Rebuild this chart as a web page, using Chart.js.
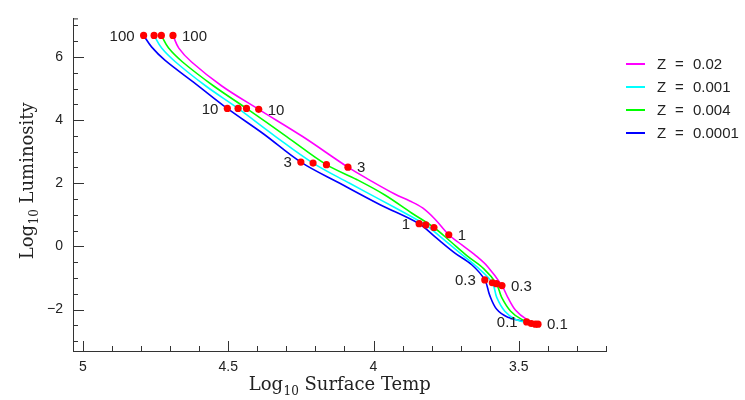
<!DOCTYPE html>
<html>
<head>
<meta charset="utf-8">
<script src="https://cdn.jsdelivr.net/npm/chart.js@4.4.0/dist/chart.umd.min.js"></script>
<style>
  html, body { margin: 0; padding: 0; background: #fff; }
</style>
</head>
<body>
<canvas id="hr" width="745" height="400"></canvas>
<script>
// --- ZAMS tracks, log T vs log L ---
const seriesNames = ['Z = 0.02', 'Z = 0.001', 'Z = 0.004', 'Z = 0.0001'];
const seriesColors = ['#ff00ff', '#00ffff', '#00ff00', '#0000ff'];

const tempZ002 = [4.690, 4.670, 4.626, 4.522, 4.395, 4.244, 4.088, 4.013, 3.927, 3.875, 3.831, 3.789, 3.741, 3.696, 3.652, 3.607, 3.558, 3.538, 3.511, 3.473, 3.434];
const lumZ002  = [6.68, 6.28, 5.84, 5.08, 4.34, 3.48, 2.51, 2.10, 1.66, 1.44, 1.22, 0.87, 0.37, 0.05, -0.26, -0.64, -1.24, -1.61, -2.02, -2.31, -2.46];

const tempZ0001 = [4.755, 4.729, 4.681, 4.577, 4.466, 4.337, 4.208, 4.082, 3.979, 3.875, 3.820, 3.765, 3.703, 3.641, 3.591, 3.576, 3.548, 3.511, 3.457];
const lumZ0001  = [6.68, 6.28, 5.84, 5.08, 4.37, 3.48, 2.64, 2.00, 1.49, 0.97, 0.68, 0.27, -0.20, -0.67, -1.15, -1.61, -2.05, -2.31, -2.44];

const tempZ0004 = [4.730, 4.705, 4.657, 4.550, 4.437, 4.299, 4.162, 4.058, 3.961, 3.869, 3.792, 3.738, 3.679, 3.621, 3.577, 3.559, 3.528, 3.490, 3.443];
const lumZ0004  = [6.68, 6.28, 5.84, 5.08, 4.37, 3.48, 2.59, 2.12, 1.63, 1.06, 0.60, 0.18, -0.29, -0.70, -1.18, -1.61, -2.05, -2.31, -2.46];

const tempZ00001 = [4.791, 4.763, 4.718, 4.612, 4.503, 4.378, 4.250, 4.116, 3.979, 3.843, 3.789, 3.721, 3.662, 3.617, 3.600, 3.576, 3.538, 3.473];
const lumZ00001  = [6.68, 6.31, 5.90, 5.15, 4.37, 3.56, 2.67, 2.00, 1.33, 0.72, 0.31, -0.20, -0.58, -1.06, -1.55, -1.99, -2.24, -2.39];

// mass points (solar masses) on each track
const massLabels = ['100', '10', '3', '1', '0.3', '0.1'];
const massTempZ002    = [4.690, 4.395, 4.088, 3.741, 3.558, 3.434];
const massLumZ002     = [6.68, 4.34, 2.51, 0.37, -1.24, -2.46];
const massTempZ0001   = [4.755, 4.466, 4.208, 3.820, 3.591, 3.457];
const massLumZ0001    = [6.68, 4.37, 2.64, 0.68, -1.15, -2.44];
const massTempZ0004   = [4.730, 4.437, 4.162, 3.792, 3.577, 3.443];
const massLumZ0004    = [6.68, 4.37, 2.59, 0.60, -1.18, -2.46];
const massTempZ00001  = [4.791, 4.503, 4.250, 3.843, 3.617, 3.473];
const massLumZ00001   = [6.68, 4.37, 2.67, 0.72, -1.06, -2.39];

const xTicks = [5, 4.5, 4, 3.5];
const yTicks = [-2, 0, 2, 4, 6];

const tracks = [[tempZ002, lumZ002], [tempZ0001, lumZ0001], [tempZ0004, lumZ0004], [tempZ00001, lumZ00001]];
const massTracks = [[massTempZ002, massLumZ002], [massTempZ0001, massLumZ0001], [massTempZ0004, massLumZ0004], [massTempZ00001, massLumZ00001]];

const toPts = (xs, ys) => xs.map((x, i) => ({ x: x, y: ys[i] }));

const datasets = tracks.map((t, i) => ({
    label: seriesNames[i],
    data: toPts(t[0], t[1]),
    showLine: true,
    borderColor: seriesColors[i],
    borderWidth: 1.6,
    pointRadius: 0,
    fill: false,
    tension: 0.35,
    order: 2
}));

let allMass = [];
massTracks.forEach(m => { allMass = allMass.concat(toPts(m[0], m[1])); });
datasets.push({
    label: 'mass',
    data: allMass,
    showLine: false,
    pointRadius: 3.6,
    pointBackgroundColor: '#ff0000',
    pointBorderWidth: 0,
    order: 0
});

const SANS = '"Liberation Sans", Arial, sans-serif';
const SERIF = '"DejaVu Serif", serif';

// log10 title with subscript
function drawLogTitle(ctx, rest, cx, cy) {
    const big = '18px ' + SERIF, small = '12px ' + SERIF;
    ctx.font = big;
    const w1 = ctx.measureText('Log').width;
    const w3 = ctx.measureText(rest).width;
    ctx.font = small;
    const w2 = ctx.measureText('10').width;
    let x = cx - (w1 + w2 + w3) / 2;
    ctx.textAlign = 'left';
    ctx.textBaseline = 'alphabetic';
    ctx.font = big;
    ctx.fillText('Log', x, cy);
    ctx.font = small;
    ctx.fillText('10', x + w1 + 0.5, cy + 5);
    ctx.font = big;
    ctx.fillText(rest, x + w1 + w2 + 0.5, cy);
}

const extras = {
    id: 'extras',
    afterDraw(chart) {
        const ctx = chart.ctx;
        const xs = chart.scales.x, ys = chart.scales.y;
        const a = chart.chartArea;
        ctx.save();
        ctx.strokeStyle = '#333';
        ctx.lineWidth = 1;
        // inward ticks
        ctx.beginPath();
        for (let v = 32; v <= 50; v++) {
            const px = Math.round(xs.getPixelForValue(v / 10)) + 0.5;
            const len = v % 5 === 0 ? 10 : 5;
            ctx.moveTo(px, a.bottom); ctx.lineTo(px, a.bottom - len);
        }
        for (let v = -6; v <= 14; v++) {
            const py = Math.round(ys.getPixelForValue(v / 2)) + 0.5;
            const len = v % 4 === 0 ? 11 : 5;
            ctx.moveTo(a.left, py); ctx.lineTo(a.left + len, py);
        }
        // end caps
        ctx.moveTo(a.left, a.top + 0.5); ctx.lineTo(a.left + 5, a.top + 0.5);
        ctx.moveTo(a.left + 0.5, a.bottom); ctx.lineTo(a.left + 0.5, a.bottom - 5);
        ctx.stroke();

        // mass labels
        ctx.fillStyle = '#222';
        ctx.font = '15px ' + SANS;
        ctx.textBaseline = 'middle';
        massLabels.forEach((lab, k) => {
            let minX = Infinity, maxX = -Infinity, yMin = 0, yMax = 0;
            massTracks.forEach(m => {
                const px = xs.getPixelForValue(m[0][k]);
                const py = ys.getPixelForValue(m[1][k]);
                if (px < minX) { minX = px; yMin = py; }
                if (px > maxX) { maxX = px; yMax = py; }
            });
            ctx.textAlign = 'right';
            ctx.fillText(lab, minX - 9, yMin + 1);
            ctx.textAlign = 'left';
            ctx.fillText(lab, maxX + 9, yMax + 1);
        });

        // legend
        seriesNames.forEach((name, i) => {
            const y = 64 + i * 23;
            ctx.strokeStyle = seriesColors[i];
            ctx.lineWidth = 2;
            ctx.beginPath();
            ctx.moveTo(626, y); ctx.lineTo(645, y);
            ctx.stroke();
            ctx.fillStyle = '#222';
            ctx.textAlign = 'left';
            ctx.font = '15px ' + SANS;
            ctx.fillText('Z', 657, y + 1);
            ctx.fillText('=', 675, y + 1);
            ctx.fillText(name.split('= ')[1], 693, y + 1);
        });

        // axis titles
        ctx.fillStyle = '#222';
        drawLogTitle(ctx, ' Surface Temp', (a.left + a.right) / 2, 390);
        ctx.save();
        ctx.translate(33, 181);
        ctx.rotate(-Math.PI / 2);
        drawLogTitle(ctx, ' Luminosity', 0, 0);
        ctx.restore();
        ctx.restore();
    }
};

new Chart(document.getElementById('hr'), {
    type: 'scatter',
    data: { datasets: datasets },
    options: {
        responsive: false,
        animation: false,
        layout: { padding: { left: 0, top: 16, right: 139, bottom: 0 } },
        plugins: { legend: { display: false }, tooltip: { enabled: false } },
        scales: {
            x: {
                type: 'linear',
                reverse: true,
                min: 3.2,
                max: 5.034,
                grid: { display: false, drawTicks: false },
                border: { display: true, color: '#333', width: 1 },
                afterBuildTicks: s => { s.ticks = xTicks.map(v => ({ value: v })); },
                afterFit: s => { s.height = 49; },
                ticks: { color: '#222', font: { size: 14, family: SANS }, padding: 8, callback: v => String(v) }
            },
            y: {
                type: 'linear',
                min: -3.31,
                max: 7.22,
                grid: { display: false, drawTicks: false },
                border: { display: true, color: '#333', width: 1 },
                afterBuildTicks: s => { s.ticks = yTicks.map(v => ({ value: v })); },
                afterFit: s => { s.width = 73; },
                ticks: { color: '#222', font: { size: 14, family: SANS }, padding: 10, callback: v => (v < 0 ? '\u2212' + Math.abs(v) : String(v)) }
            }
        }
    },
    plugins: [extras]
});
</script>
</body>
</html>
